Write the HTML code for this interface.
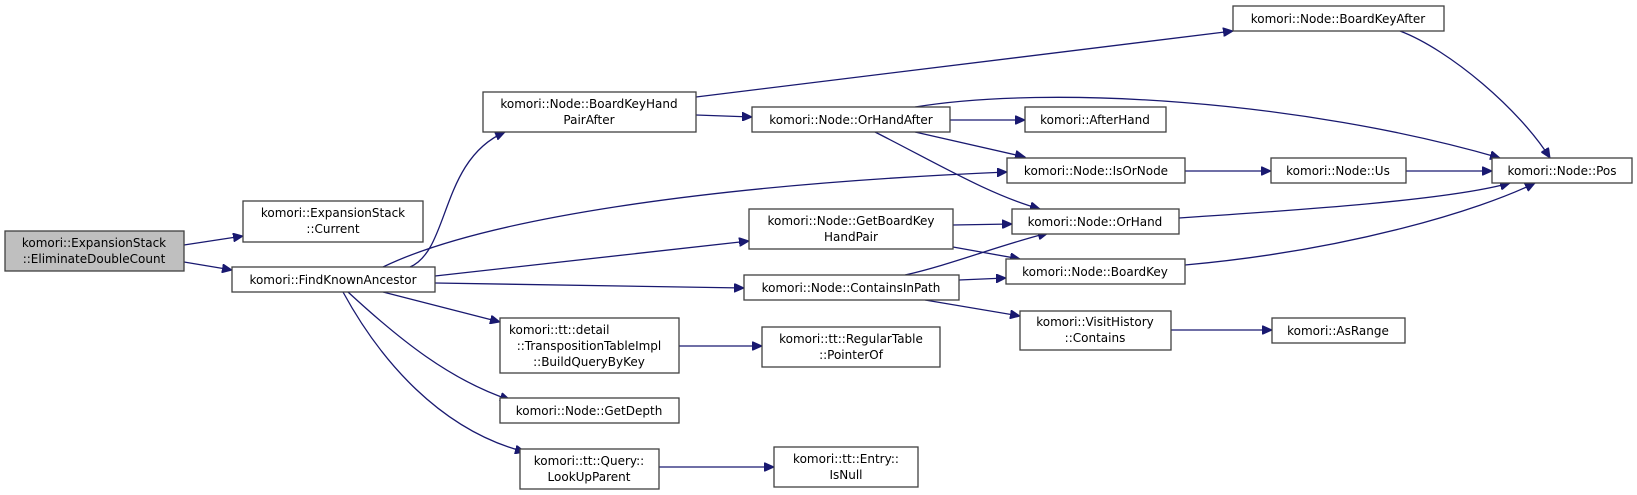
<!DOCTYPE html>
<html><head><meta charset="utf-8"><style>
html,body{margin:0;padding:0;background:#fff;}
svg{display:block;}
text{font-family:"DejaVu Sans","Liberation Sans",sans-serif;font-size:12px;fill:#000;text-anchor:middle;}
rect{fill:#fff;stroke:#404040;stroke-width:1.3;}
path{fill:none;stroke:#191970;stroke-width:1.3;}
</style></head><body>
<svg width="1637" height="495" viewBox="0 0 1637 495">
<defs><marker id="a" markerWidth="11" markerHeight="9" refX="10" refY="4.5" orient="auto" markerUnits="userSpaceOnUse"><path d="M0,0 L10,4.5 L0,9 Z" style="fill:#191970;stroke:#191970;stroke-width:1"/></marker></defs>
<g marker-end="url(#a)">
<path d="M184,245 L243,236"/>
<path d="M184,262 L232,270"/>
<path d="M410,267 C450,250 440,160 505,132"/>
<path d="M383,267 C480,220 700,185 1007,172"/>
<path d="M435,276 L749,241"/>
<path d="M435,283 L744,288"/>
<path d="M383,292 L500,322"/>
<path d="M348,292 C400,340 450,380 510,400"/>
<path d="M343,292 C380,360 440,430 525,452"/>
<path d="M696,97 L1233,31"/>
<path d="M696,115 L752,117"/>
<path d="M950,120 L1025,120"/>
<path d="M915,132 L1025,157"/>
<path d="M875,132 C940,165 990,195 1040,209"/>
<path d="M915,107 C1050,85 1300,100 1500,158"/>
<path d="M1185,171 L1271,171"/>
<path d="M1406,171 L1492,171"/>
<path d="M1400,31 C1450,50 1520,110 1550,158"/>
<path d="M1179,218 C1300,210 1450,200 1510,183"/>
<path d="M1185,265 C1350,250 1480,210 1535,183"/>
<path d="M953,225 L1012,224"/>
<path d="M953,247 L1020,259"/>
<path d="M905,275 C950,265 1000,245 1048,233"/>
<path d="M959,280 L1006,278"/>
<path d="M925,300 L1020,316"/>
<path d="M1171,330 L1272,330"/>
<path d="M679,346 L762,346"/>
<path d="M659,467 L774,467"/>
</g>
<rect x="5" y="231" width="179" height="40" style="fill:#bfbfbf"/>
<text x="94" y="247">komori::ExpansionStack</text><text x="94" y="263">::EliminateDoubleCount</text>
<rect x="243" y="201" width="180" height="41"/>
<text x="333" y="217">komori::ExpansionStack</text><text x="333" y="233">::Current</text>
<rect x="232" y="267" width="203" height="25"/>
<text x="333" y="284">komori::FindKnownAncestor</text>
<rect x="483" y="92" width="213" height="40"/>
<text x="589" y="108">komori::Node::BoardKeyHand</text><text x="589" y="124">PairAfter</text>
<rect x="752" y="107" width="198" height="25"/>
<text x="851" y="124">komori::Node::OrHandAfter</text>
<rect x="1233" y="6" width="211" height="25"/>
<text x="1338" y="23">komori::Node::BoardKeyAfter</text>
<rect x="1025" y="107" width="141" height="25"/>
<text x="1095" y="124">komori::AfterHand</text>
<rect x="1007" y="158" width="178" height="25"/>
<text x="1096" y="175">komori::Node::IsOrNode</text>
<rect x="1271" y="158" width="135" height="25"/>
<text x="1338" y="175">komori::Node::Us</text>
<rect x="1492" y="158" width="140" height="25"/>
<text x="1562" y="175">komori::Node::Pos</text>
<rect x="749" y="209" width="204" height="40"/>
<text x="851" y="225">komori::Node::GetBoardKey</text><text x="851" y="241">HandPair</text>
<rect x="1012" y="209" width="167" height="25"/>
<text x="1095" y="226">komori::Node::OrHand</text>
<rect x="1006" y="259" width="179" height="25"/>
<text x="1095" y="276">komori::Node::BoardKey</text>
<rect x="744" y="275" width="215" height="25"/>
<text x="851" y="292">komori::Node::ContainsInPath</text>
<rect x="1020" y="311" width="151" height="39"/>
<text x="1095" y="326">komori::VisitHistory</text><text x="1095" y="342">::Contains</text>
<rect x="1272" y="318" width="133" height="25"/>
<text x="1338" y="335">komori::AsRange</text>
<rect x="500" y="318" width="179" height="55"/>
<text x="589" y="334" style="text-anchor:start" dx="-80">komori::tt::detail</text><text x="589" y="350">::TranspositionTableImpl</text><text x="589" y="366">::BuildQueryByKey</text>
<rect x="762" y="327" width="178" height="40"/>
<text x="851" y="343">komori::tt::RegularTable</text><text x="851" y="359">::PointerOf</text>
<rect x="500" y="398" width="179" height="25"/>
<text x="589" y="415">komori::Node::GetDepth</text>
<rect x="520" y="449" width="139" height="40"/>
<text x="589" y="465">komori::tt::Query::</text><text x="589" y="481">LookUpParent</text>
<rect x="774" y="447" width="144" height="40"/>
<text x="846" y="463">komori::tt::Entry::</text><text x="846" y="479">IsNull</text>
</svg>
</body></html>
